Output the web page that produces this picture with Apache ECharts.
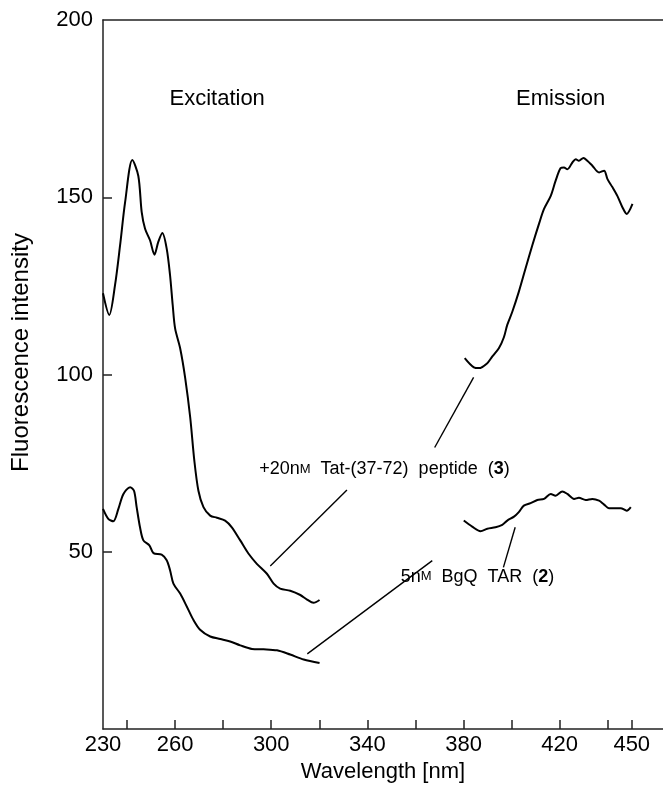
<!DOCTYPE html>
<html>
<head>
<meta charset="UTF-8">
<title>Fluorescence</title>
<script type="text/javascript" src="https://cdn.jsdelivr.net/npm/echarts@6/dist/echarts.min.js"></script>
<style>
  body{margin:0;background:#fff}
</style>
</head>
<body>
<div id="main" style="width:663px;height:788px"></div>
<script type="text/javascript">
// excitation spectra, [wavelength, intensity]
var excTat = [[230,122.9],[232.6,116.8],[235,125.2],[237.1,136.4],[239.2,148.6],[242.2,160.5],[244.7,156],[246.1,145.8],[247.5,141.1],[249.6,137.8],[251.4,133.8],[253,137.4],[254.7,139.9],[256.5,135.5],[257.9,128],[259,119.6],[260,113],[262.1,107.4],[264.2,99],[266.3,87.8],[268,75.7],[269.7,67.2],[271.8,62.6],[274.6,60.2],[277.4,59.6],[280.8,58.8],[283.6,56.9],[287.1,53.2],[290.5,49.5],[294,46.6],[298.2,43.8],[301,41],[303.7,39.6],[307.9,39],[312.1,37.8],[314.9,36.5],[317.6,35.6],[320.1,36.4]];
var excTar = [[230,62.1],[232.2,59.3],[234.3,58.6],[236.4,62.1],[238.5,66.3],[241.3,68.2],[242.9,67.2],[244,62.6],[245.4,56.9],[246.8,53.2],[249.3,51.8],[251,49.6],[254.4,49.2],[256.5,47.6],[257.9,44.8],[259.3,41],[262.1,38.2],[264.9,34.5],[267.6,30.8],[270.4,28],[274.6,26.1],[278.8,25.4],[282.9,24.7],[287.1,23.6],[292,22.6],[296.8,22.5],[302.4,22.2],[307.9,21],[313.5,19.6],[320.1,18.6]];
// emission spectra
var emTat = [[380.5,104.6],[384.3,102],[386.4,101.8],[389.9,103.2],[392,105.1],[394.7,107.4],[396.8,110.5],[398.2,114],[400.3,117.7],[403,123.3],[405.8,129.9],[408.6,136.4],[411.4,142.5],[413.5,146.7],[416.3,150.4],[418.3,154.6],[420.4,158.2],[421.8,158.4],[423.2,157.9],[425.3,159.8],[426.7,160.7],[428,160.3],[429.9,161.1],[431.5,160.3],[433.6,158.9],[436.4,157],[438.5,157.5],[439.9,155.1],[442,152.8],[444,150.4],[446.1,147.2],[447.9,145.3],[450.3,148.1]];
var emTar = [[380.1,58.8],[383.6,57.1],[387.1,55.8],[389.9,56.5],[393.3,56.9],[396.1,57.6],[398.2,58.8],[401,59.9],[403,61.2],[405.1,63],[407.9,63.7],[410.7,64.6],[413.5,64.9],[416.3,66.3],[418.3,65.8],[421.1,67],[423.2,66.3],[426,64.9],[428,65.2],[430.8,64.6],[433.6,64.9],[436.4,64.4],[438.5,63.3],[440.5,62.3],[445.4,62.3],[447.9,61.6],[449.6,62.6]];

var xTickLabels = [230,260,300,340,380,420,450];
var xTicks = [240,260,280,300,320,340,360,380,400,420,440,450];
var yTickLabels = [50,100,150,200];
var yTicks = [50,100,150];

// leader lines from the labels to the curves
var leadTatExc = [[299.6,46],[331.5,67.4]];
var leadTatEm = [[368,79.4],[384.2,99.2]];
var leadTarExc = [[315,21.2],[367,47.5]];
var leadTarEm = [[396.6,45.6],[401.5,56.9]];

var myEcharts = echarts.init(document.getElementById('main'));
var font = '"Liberation Sans", Arial, sans-serif';

function curve(d) {
  return {type:'line', data:d, showSymbol:false, smooth:0.3, silent:true,
    lineStyle:{color:'#000', width:2}};
}
function lead(d) {
  return {type:'line', data:d, showSymbol:false, silent:true,
    lineStyle:{color:'#000', width:1.4}};
}

var option = {
  animation:false,
  grid:{left:103, top:20, right:0, bottom:55},
  xAxis:[{
    type:'value', min:230, max:463,
    name:'Wavelength [nm]', nameLocation:'middle', nameGap:32,
    nameTextStyle:{fontFamily:font, fontSize:22, color:'#000'},
    axisLine:{lineStyle:{color:'#222', width:1.5}},
    axisTick:{show:true, inside:true, length:9, customValues:xTicks, lineStyle:{color:'#222', width:1.5}},
    axisLabel:{customValues:xTickLabels, margin:5, fontFamily:font, fontSize:22, color:'#000'},
    splitLine:{show:false}
  },{
    type:'value', position:'top', min:230, max:463,
    axisLine:{show:true, lineStyle:{color:'#222', width:1.5}},
    axisTick:{show:false}, axisLabel:{show:false}, splitLine:{show:false}
  }],
  yAxis:{
    type:'value', min:0, max:200,
    name:'Fluorescence intensity', nameLocation:'middle', nameGap:70,
    nameTextStyle:{fontFamily:font, fontSize:24, color:'#000', padding:[0,0,0,44]},
    axisLine:{show:true, lineStyle:{color:'#222', width:1.5}},
    axisTick:{show:true, inside:true, length:9, customValues:yTicks, lineStyle:{color:'#222', width:1.5}},
    axisLabel:{customValues:yTickLabels, margin:10, fontFamily:font, fontSize:22, color:'#000'},
    splitLine:{show:false}
  },
  series:[
    curve(excTat), curve(excTar), curve(emTat), curve(emTar),
    lead(leadTatExc), lead(leadTatEm), lead(leadTarExc), lead(leadTarEm),
    {
      type:'scatter', symbolSize:0, silent:true,
      itemStyle:{opacity:1},
      label:{show:true, position:[0,0], align:'center', verticalAlign:'middle',
        fontFamily:font, color:'#000', opacity:1, textBorderWidth:0,
        formatter:function(p){ return p.data.t; },
        rich:{
          n:{fontFamily:font, fontSize:18, color:'#000'},
          s:{fontFamily:font, fontSize:13, color:'#000'},
          b:{fontFamily:font, fontSize:18, fontWeight:'bold', color:'#000'},
          h:{fontFamily:font, fontSize:22, color:'#000'}
        }},
      data:[
        {value:[277.5,177.6], t:'{h|Excitation}'},
        {value:[420.4,177.6], t:'{h|Emission}'},
        {value:[347.1,73.3], t:'{n|+20n}{s|M}{n|  Tat-(37-72)  peptide  (}{b|3}{n|)}'},
        {value:[385.8,43], t:'{n|5n}{s|M}{n|  BgQ  TAR  (}{b|2}{n|)}'}
      ]
    }
  ]
};
myEcharts.setOption(option);
</script>
</body>
</html>
